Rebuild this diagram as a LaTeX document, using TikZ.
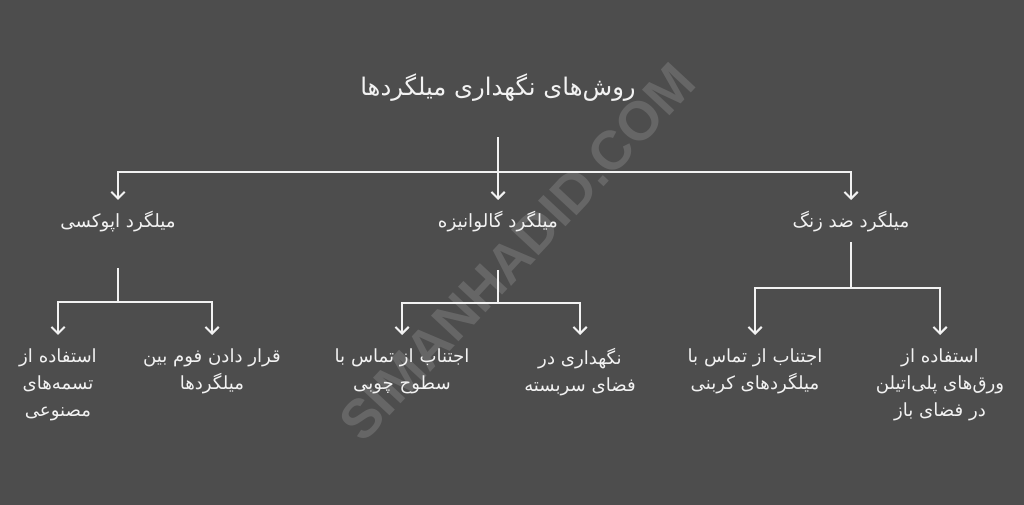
\documentclass[tikz,border=0pt]{standalone}
\usepackage{fontspec}
\setmainfont{DejaVu Sans}
\newfontfamily\arabicfont[Script=Arabic]{DejaVu Sans}
\newfontfamily\wmfont{Liberation Sans}
\TeXXeTstate=1
\usetikzlibrary{arrows.meta}
\newcommand{\fa}[1]{{\arabicfont\beginR #1\endR}}
\definecolor{bg}{HTML}{4D4D4D}
\definecolor{fg}{HTML}{F2F2F2}
\begin{document}
\begin{tikzpicture}[x=0.75pt,y=-0.75pt,
  conn/.style={draw=fg,line width=1.5pt},
  arr/.style={conn,-{Straight Barb[length=5pt,width=10pt,line width=1.5pt]}},
  titlebox/.style={text=fg,font=\fontsize{18.2}{22}\selectfont,minimum height=73.5pt,inner sep=0},
  lvtwo/.style={text=fg,font=\fontsize{13.7}{16}\selectfont,anchor=north,inner xsep=0,inner ysep=8.5pt},
  lvthree/.style={text=fg,font=\fontsize{13.6}{20.3}\selectfont,anchor=north,align=center,inner xsep=0,inner ysep=10pt},
  wm/.style={text=white,opacity=0.14,font=\wmfont\bfseries\fontsize{41}{46}\selectfont}]
\fill[bg] (0,0) rectangle (1024,505);
\useasboundingbox (0,0) rectangle (1024,505);

% watermark
\node[wm,rotate=47] (wmk) at (517,252) {SIMANHADID.COM};

% title
\node[titlebox] (t) at (498,88) {\fa{روش‌های نگهداری میلگردها}};

% level 2
\node[lvtwo] (a) at (118,200) {\fa{میلگرد اپوکسی}};
\node[lvtwo] (b) at (498,200) {\fa{میلگرد گالوانیزه}};
\node[lvtwo] (c) at (851,200) {\fa{میلگرد ضد زنگ}};

% level 3
\node[lvthree] (a1) at (58,335) {\fa{استفاده از}\\\fa{تسمه‌های}\\\fa{مصنوعی}};
\node[lvthree] (a2) at (212,335) {\fa{قرار دادن فوم بین}\\\fa{میلگردها}};
\node[lvthree] (b1) at (402,335) {\fa{اجتناب از تماس با}\\\fa{سطوح چوبی}};
\node[lvthree] (b2) at (580,335) {\fa{نگهداری در}\\\fa{فضای سربسته}};
\node[lvthree] (c1) at (755,335) {\fa{اجتناب از تماس با}\\\fa{میلگردهای کربنی}};
\node[lvthree] (c2) at (940,335) {\fa{استفاده از}\\\fa{ورق‌های پلی‌اتیلن}\\\fa{در فضای باز}};

% junctions
\coordinate (j0) at (498,172);
\coordinate (as) at (118,268);
\coordinate (aj) at (118,302);
\coordinate (bs) at (498,270);
\coordinate (bj) at (498,303);
\coordinate (cs) at (851,242);
\coordinate (cj) at (851,288);

% connectors
\draw[conn] (t.south) -- (j0);
\draw[arr] (j0) -| (a.north);
\draw[arr] (j0) -- (b.north);
\draw[arr] (j0) -| (c.north);

\draw[conn] (as) -- (aj);
\draw[arr] (aj) -| (a1.north);
\draw[arr] (aj) -| (a2.north);

\draw[conn] (bs) -- (bj);
\draw[arr] (bj) -| (b1.north);
\draw[arr] (bj) -| (b2.north);

\draw[conn] (cs) -- (cj);
\draw[arr] (cj) -| (c1.north);
\draw[arr] (cj) -| (c2.north);
\end{tikzpicture}
\end{document}
